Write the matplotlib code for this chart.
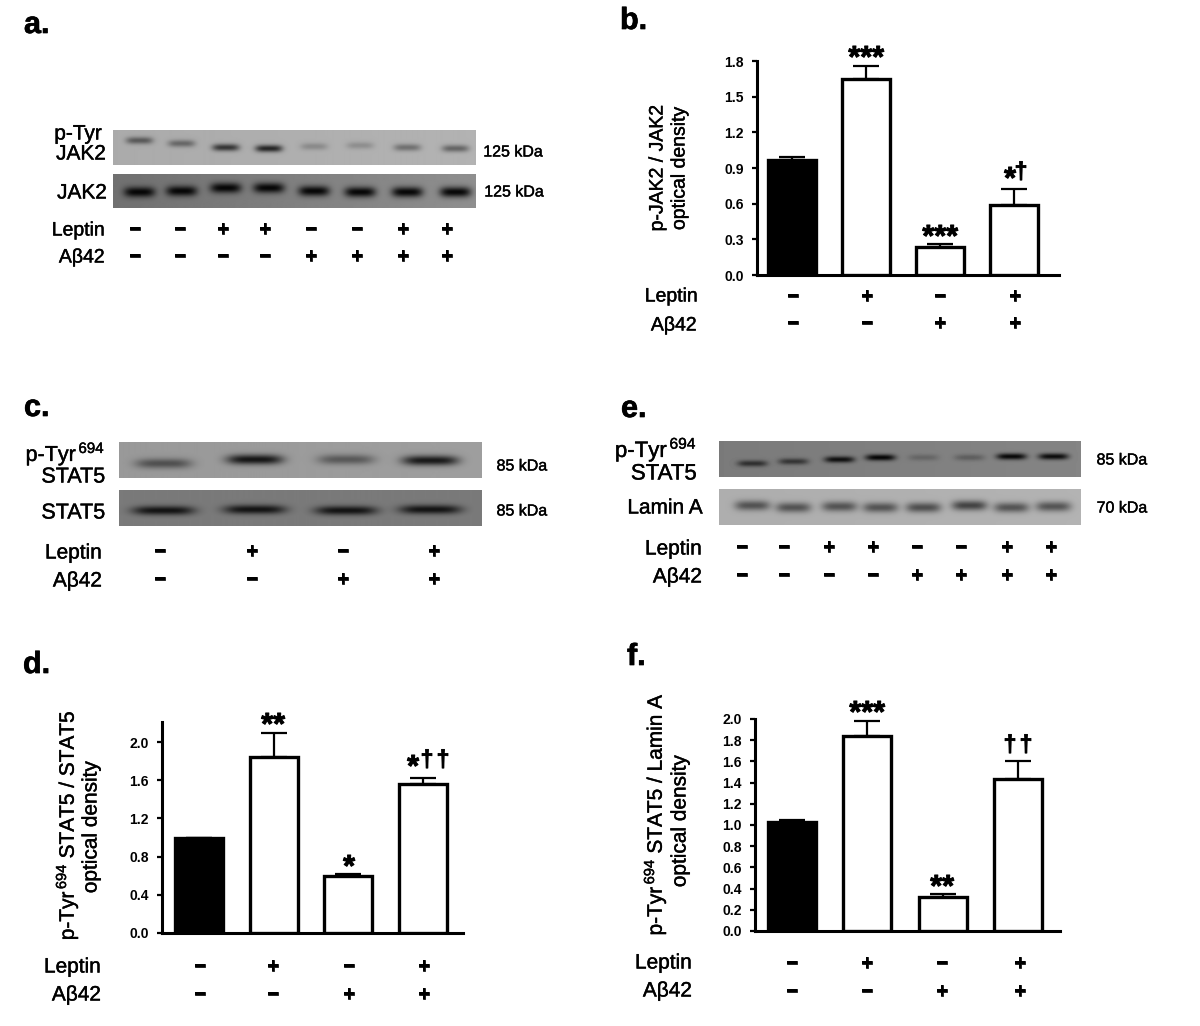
import matplotlib
matplotlib.use("Agg")
import matplotlib.pyplot as plt
import matplotlib.patheffects as pe
import numpy as np

plt.rcParams["font.family"] = ["Liberation Sans", "DejaVu Sans"]
plt.rcParams["mathtext.fontset"] = "custom"
plt.rcParams["mathtext.rm"] = "Liberation Sans"
plt.rcParams["mathtext.default"] = "regular"

W, H = 1200, 1026

# bar values, error values are the top of the whisker
b_values = [0.97, 1.65, 0.235, 0.59]
b_tops = [0.99, 1.76, 0.26, 0.72]
b_ticks = [0.0, 0.3, 0.6, 0.9, 1.2, 1.5, 1.8]

d_values = [1.0, 1.84, 0.60, 1.56]
d_tops = [1.0, 2.10, 0.62, 1.62]
d_ticks = [0.0, 0.4, 0.8, 1.2, 1.6, 2.0]

f_values = [1.03, 1.84, 0.32, 1.43]
f_tops = [1.05, 1.98, 0.35, 1.60]
f_ticks = [0.0, 0.2, 0.4, 0.6, 0.8, 1.0, 1.2, 1.4, 1.6, 1.8, 2.0]

leptin4 = ["−", "+", "−", "+"]
abeta4 = ["−", "−", "+", "+"]
leptin8 = ["−", "−", "+", "+", "−", "−", "+", "+"]
abeta8 = ["−", "−", "−", "−", "+", "+", "+", "+"]

# band strength per lane, 0 = nothing, 1 = black
a_top_bands = [0.50, 0.42, 0.72, 0.82, 0.22, 0.20, 0.38, 0.45]
a_bot_bands = [1.0, 1.0, 1.0, 1.0, 1.0, 1.0, 1.0, 1.0]
c_top_bands = [0.50, 0.90, 0.45, 0.88]
c_bot_bands = [0.88, 0.88, 0.88, 0.88]
e_top_bands = [0.65, 0.60, 0.92, 1.0, 0.22, 0.28, 0.98, 0.95]
e_bot_bands = [0.55, 0.55, 0.55, 0.55, 0.58, 0.65, 0.55, 0.55]

# band height inside each strip, in pixels from the strip top
a_top_y = [10, 13, 17, 18, 16, 15, 17, 18]
a_bot_y = [18, 17, 14, 14, 17, 18, 18, 18]
c_top_y = [21, 17, 17, 18]
c_bot_y = [20, 19, 20, 19]
e_top_y = [22, 20, 18, 16, 16, 16, 15, 15]
e_bot_y = [16, 18, 17, 18, 18, 16, 18, 17]


def pos(x, y):
    return x / W, 1 - y / H


def label(x, y, s, size=14, ha="center", va="center", weight=0.3, **kw):
    t = fig.text(*pos(x, y), s, fontsize=size, ha=ha, va=va, **kw)
    if weight:
        t.set_path_effects([pe.withStroke(linewidth=weight, foreground="black")])
    return t


def panel_letter(x, y, s):
    label(x, y, s, size=22, ha="left", fontweight="bold", weight=0.5)


def signs(xs, y, marks):
    for x, m in zip(xs, marks):
        label(x, y + 1, m, size=15, fontweight="bold", weight=0.5)


def star(x, y, s, size=22):
    # baseline is placed so the asterisk itself sits on y
    label(x, y + 13, s, size=size, va="baseline", fontweight="bold", weight=0.7)


def dagger(x, y, s="†"):
    label(x, y, s, size=17, fontweight="bold", weight=0.6)


def blot(left, right, top, bottom, lanes, offsets, bands, band_w, band_h, bg_l, bg_r):
    ax = fig.add_axes([left / W, 1 - bottom / H, (right - left) / W, (bottom - top) / H])
    xx, yy = np.meshgrid(np.arange(left, right), np.arange(0, bottom - top))
    img = np.linspace(bg_l, bg_r, right - left) * np.ones_like(xx, dtype=float)
    for cx, cy, s in zip(lanes, offsets, bands):
        prof = np.exp(-(((xx - cx) / (band_w / 2)) ** 4)) * np.exp(-(((yy - cy) / band_h) ** 2))
        img = img * (1 - s * prof * 0.95)
    ax.imshow(img, cmap="gray", vmin=0, vmax=1, aspect="auto", interpolation="bilinear")
    ax.axis("off")


def bars(rect, centers, values, tops, ticks, ylim, tick_fmt="%.1f"):
    left, right, top, bottom = rect
    ax = fig.add_axes([left / W, 1 - bottom / H, (right - left) / W, (bottom - top) / H])
    step = (centers[-1] - centers[0]) / 3
    x = np.arange(4)
    ax.set_xlim((left - centers[0]) / step, (right - centers[0]) / step)
    ax.set_ylim(0, ylim)
    errs = [t - v for t, v in zip(tops, values)]
    ax.errorbar(x, values, yerr=[[0] * 4, errs], fmt="none", ecolor="black",
                elinewidth=1.6, capsize=9.5, capthick=1.6, zorder=2)
    ax.bar(x, values, width=48 / step, color=["black", "white", "white", "white"],
           edgecolor="black", linewidth=2.4, zorder=3)
    for s in ["top", "right"]:
        ax.spines[s].set_visible(False)
    ax.spines["left"].set_linewidth(2.2)
    ax.spines["bottom"].set_linewidth(2.2)
    ax.set_xticks([])
    ax.set_yticks(ticks)
    ax.set_yticklabels([tick_fmt % t for t in ticks], fontsize=10, fontweight="bold")
    ax.tick_params(axis="y", length=3.6, width=1.6, pad=6)
    ax.patch.set_alpha(0)
    return ax


fig = plt.figure(figsize=(W / 100, H / 100), dpi=100, facecolor="white")

# a. blots
panel_letter(24, 25, "a.")
a_lanes = [139, 181, 225, 268, 313, 359, 406, 454]
blot(113, 475, 130, 165, a_lanes, a_top_y, a_top_bands, 27, 3.6, 0.67, 0.70)
blot(113, 475, 174, 208, a_lanes, a_bot_y, a_bot_bands, 31, 5.0, 0.44, 0.56)
label(78, 134, "p-Tyr", size=15)
label(81, 154, "JAK2", size=15)
label(82, 193, "JAK2", size=15)
label(513, 152, "125 kDa", size=11.5)
label(514, 192, "125 kDa", size=11.5)
a_signs = [135, 180, 223, 265, 311, 357, 403, 447]
label(105, 231, "Leptin", ha="right")
label(105, 258, "Aβ42", ha="right")
signs(a_signs, 229, leptin8)
signs(a_signs, 256, abeta8)

# b. bars
panel_letter(620, 21, "b.")
bars((757, 1059, 61, 275), [792, 866, 940, 1014], b_values, b_tops, b_ticks, 1.8)
label(658, 168, "p-JAK2 / JAK2", rotation=90)
label(680, 168, "optical density", rotation=90)
label(698, 297, "Leptin", ha="right")
label(697, 326, "Aβ42", ha="right")
signs([793, 867, 940, 1015], 296, leptin4)
signs([793, 867, 940, 1015], 323, abeta4)
star(866, 54, "***")
star(940, 233, "***")
star(1010, 175, "*")
dagger(1021, 172)

# c. blots
panel_letter(24, 408, "c.")
c_lanes = [163, 254, 345, 429]
blot(119, 481, 442, 478, c_lanes, c_top_y, c_top_bands, 56, 5.0, 0.60, 0.62)
blot(119, 481, 490, 526, c_lanes, c_bot_y, c_bot_bands, 62, 4.6, 0.48, 0.48)
label(105, 454, r"p-Tyr$^{\,694}$", ha="right", size=15.5)
label(105, 477, "STAT5", ha="right", size=15.5)
label(105, 513, "STAT5", ha="right", size=15.5)
label(522, 466, "85 kDa", size=11.5)
label(522, 511, "85 kDa", size=11.5)
c_signs = [160, 252, 343, 434]
label(102, 553, "Leptin", ha="right", size=15)
label(102, 581, "Aβ42", ha="right", size=15)
signs(c_signs, 551, leptin4)
signs(c_signs, 579, abeta4)

# e. blots
panel_letter(621, 409, "e.")
e_lanes = [752, 793, 839, 880, 923, 969, 1011, 1053]
blot(719, 1081, 441, 477, e_lanes, e_top_y, e_top_bands, 30, 3.2, 0.48, 0.52)
blot(719, 1081, 489, 525, e_lanes, e_bot_y, e_bot_bands, 35, 5.0, 0.68, 0.70)
label(697, 450, r"p-Tyr$^{\,694}$", ha="right", size=16)
label(697, 474, "STAT5", ha="right", size=16)
label(703, 508, "Lamin A", ha="right", size=15)
label(1122, 460, "85 kDa", size=11.5)
label(1122, 508, "70 kDa", size=11.5)
e_signs = [742, 784, 829, 873, 917, 961, 1007, 1051]
label(702, 549, "Leptin", ha="right", size=15)
label(702, 577, "Aβ42", ha="right", size=15)
signs(e_signs, 547, leptin8)
signs(e_signs, 575, abeta8)

# d. bars
panel_letter(23, 665, "d.")
bars((162, 463, 722, 933), [199, 273, 348, 423], d_values, d_tops, d_ticks, 2.21)
label(67, 825, r"p-Tyr$^{\,694}$ STAT5 / STAT5", rotation=90, size=15)
label(91, 827, "optical density", rotation=90, size=15)
label(101, 967, "Leptin", ha="right", size=15)
label(101, 995, "Aβ42", ha="right", size=15)
signs([200, 273, 349, 424], 966, leptin4)
signs([200, 273, 349, 424], 994, abeta4)
star(273, 721, "**")
star(349, 863, "*")
star(413, 763, "*")
dagger(427, 760)
dagger(443, 760)

# f. bars
panel_letter(627, 657, "f.")
bars((755, 1060, 719, 931), [792, 867, 943, 1018], f_values, f_tops, f_ticks, 2.0)
label(655, 814, r"p-Tyr$^{\,694}$ STAT5 / Lamin A", rotation=90, size=15)
label(680, 821, "optical density", rotation=90, size=15)
label(692, 963, "Leptin", ha="right", size=15)
label(692, 991, "Aβ42", ha="right", size=15)
signs([792, 867, 942, 1020], 963, leptin4)
signs([792, 867, 942, 1020], 991, abeta4)
star(867, 709, "***")
star(942, 883, "**")
dagger(1010, 745)
dagger(1026, 745)

fig.savefig("out.png", dpi=100)
